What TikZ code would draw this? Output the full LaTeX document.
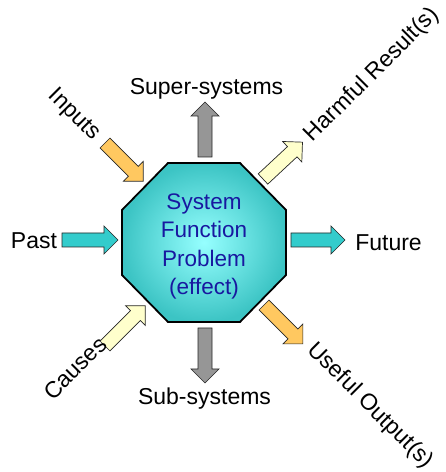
\documentclass[tikz,border=0pt]{standalone}
\usepackage{fontspec}
\setmainfont{Liberation Sans}
\definecolor{orangeA}{RGB}{255,200,96}
\definecolor{paleY}{RGB}{255,255,204}
\definecolor{cyanA}{RGB}{51,204,204}
\definecolor{grayA}{RGB}{150,150,150}
\definecolor{textblue}{RGB}{24,24,160}
\definecolor{octIn}{RGB}{150,255,255}
\definecolor{octOut}{RGB}{60,196,196}
\tikzset{
  pics/blockarrow/.style={code={
    \draw[line width=0.7pt, draw=black!85, line join=miter, pic actions]
      (0,-7) -- ({#1-14},-7) -- ({#1-14},-14) -- (#1,0) -- ({#1-14},14) -- ({#1-14},7) -- (0,7) -- cycle;}},
  lbl/.style={font=\fontsize{23}{27}\selectfont, inner sep=0pt}
}
\begin{document}
\begin{tikzpicture}[x=1pt,y=1pt]
\useasboundingbox (0,0) rectangle (446,472);
% central octagon
\shade[draw=black, line width=1.8pt, line join=miter, inner color=octIn, outer color=octOut]
  (168,309) -- (240,309) -- (286,262) -- (286,197) -- (240,150) -- (168,150) -- (122,197) -- (122,262) -- cycle;
\node[align=center, text=textblue, font=\fontsize{22.5}{28.3}\selectfont, inner sep=0pt] (core) at (204,225.5)
  {System\\Function\\Problem\\(effect)};
% block arrows
\pic[fill=grayA, rotate=90] at (205,315) {blockarrow=55};
\pic[fill=grayA, rotate=-90] at (205,144) {blockarrow=55};
\pic[fill=cyanA] at (62,232) {blockarrow=56};
\pic[fill=cyanA] at (291,232) {blockarrow=54};
\pic[fill=orangeA, rotate=-45] at (105,329) {blockarrow=54};
\pic[fill=paleY, rotate=43] at (263,293) {blockarrow=54};
\pic[fill=paleY, rotate=45] at (105,126) {blockarrow=57};
\pic[fill=orangeA, rotate=-45] at (264,167) {blockarrow=55};
% labels
\node[lbl, anchor=base] (super) at (206.5,377) {Super-systems};
\node[lbl, anchor=base] (sub) at (204.5,67) {Sub-systems};
\node[lbl, anchor=base] (past) at (34,223.5) {Past};
\node[lbl, anchor=base] (future) at (388.5,221.5) {Future};
\node[lbl, rotate=-45] (inputs) at (74,357) {Inputs};
\node[lbl, rotate=45] (harmful) at (372,397) {Harmful Result(s)};
\node[lbl, rotate=45] (causes) at (75,104) {Causes};
\node[lbl, rotate=-45] (useful) at (370,66) {Useful Output(s)};
\end{tikzpicture}
\end{document}
